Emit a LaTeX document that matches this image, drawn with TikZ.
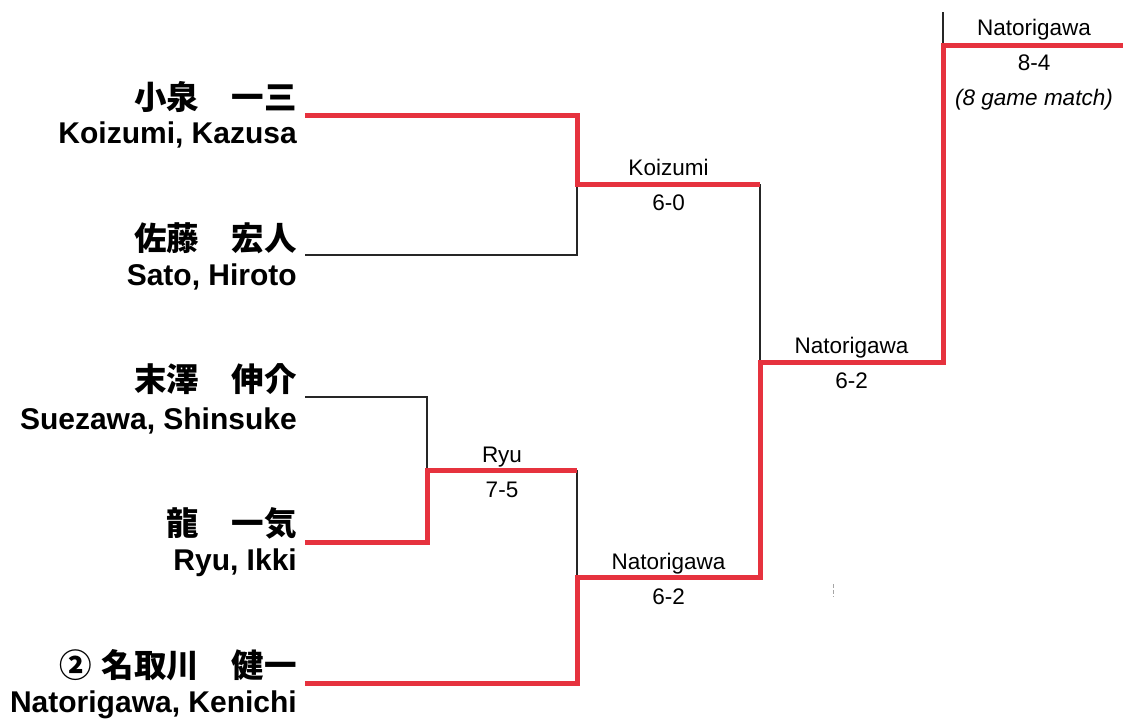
\documentclass[tikz,border=0pt]{standalone}
\usepackage{fontspec}
\setmainfont{Liberation Sans}
\newfontfamily\jpfont{Noto Sans CJK JP}
\definecolor{wred}{RGB}{230,50,62}
\begin{document}
\begin{tikzpicture}[x=1pt,y=-1pt,
  win/.style={draw=wred, line width=5pt, line join=miter},
  lose/.style={draw=black!85, line width=1.2pt},
  jpname/.style={anchor=base east, inner sep=0pt, font=\jpfont\bfseries\fontsize{32.5}{32.5}\selectfont},
  enname/.style={anchor=base east, inner sep=0pt, font=\bfseries\fontsize{30}{30}\selectfont},
  res/.style={anchor=base, inner sep=0pt, font=\fontsize{22.5}{22.5}\selectfont},
  resit/.style={res, font=\itshape\fontsize{22.5}{22.5}\selectfont}]
\useasboundingbox (0,0) rectangle (1123,723);
% player names
\node[jpname] (j1) at (297,109) {小泉　一三};
\node[enname] (e1) at (297,143) {Koizumi, Kazusa};
\node[jpname] (j2) at (297,250) {佐藤　宏人};
\node[enname] (e2) at (297,285) {Sato, Hiroto};
\node[jpname] (j3) at (297,391) {末澤　伸介};
\node[enname] (e3) at (297,429) {Suezawa, Shinsuke};
\node[jpname] (j4) at (297,535) {龍　一気};
\node[enname] (e4) at (297,570) {Ryu, Ikki};
\node[jpname] (j5) at (297,677) {②\hspace{10pt}名取川　健一};
\node[enname] (e5) at (297,712) {Natorigawa, Kenichi};
% bracket points
\coordinate (p1) at (305,115);
\coordinate (p2) at (305,255);
\coordinate (p3) at (305,397);
\coordinate (p4) at (305,542);
\coordinate (p5) at (305,683);
\coordinate (a1) at (577,115);
\coordinate (a2) at (577,255);
\coordinate (m1) at (577,184);
\coordinate (m1e) at (760,184);
\coordinate (b1) at (427,397);
\coordinate (b2) at (427,542);
\coordinate (m2) at (427,470);
\coordinate (m2e) at (577,470);
\coordinate (c1) at (577,683);
\coordinate (m3) at (577,577);
\coordinate (m3e) at (760,577);
\coordinate (m4) at (760,362);
\coordinate (m4e) at (943,362);
\coordinate (m5) at (943,45);
\coordinate (m5e) at (1123,45);
\coordinate (top) at (943,12);
% losing lines
\draw[lose] (p2) -- (a2) -- (m1);
\draw[lose] (m1e) -- (m4);
\draw[lose] (p3) -- (b1) -- (m2);
\draw[lose] (m2e) -- (m3);
\draw[lose] (m5) -- (top);
% winning lines
\draw[win] (p1) -- (a1) -- (m1) -- (m1e);
\draw[win] (p4) -- (b2) -- (m2) -- (m2e);
\draw[win] (p5) -- (c1) -- (m3) -- (m3e) -- (m4) -- (m4e) -- (m5) -- (m5e);
% results
\node[res] (w1) at (668.5,175) {Koizumi};
\node[res] (s1) at (668.5,210) {6-0};
\node[res] (w2) at (502,462) {Ryu};
\node[res] (s2) at (502,497) {7-5};
\node[res] (w3) at (668.5,569) {Natorigawa};
\node[res] (s3) at (668.5,604) {6-2};
\node[res] (w4) at (851.5,353) {Natorigawa};
\node[res] (s4) at (851.5,388) {6-2};
\node[res] (w5) at (1034,35) {Natorigawa};
\node[res] (s5) at (1034,70) {8-4};
\node[resit] (n5) at (1034,105) {(8 game match)};
% faint scan mark
\coordinate (k1) at (833,584);
\coordinate (k2) at (833,597);
\draw[black!35, line width=0.8pt, dash pattern=on 4pt off 2pt] (k1) -- (k2);
\end{tikzpicture}
\end{document}
